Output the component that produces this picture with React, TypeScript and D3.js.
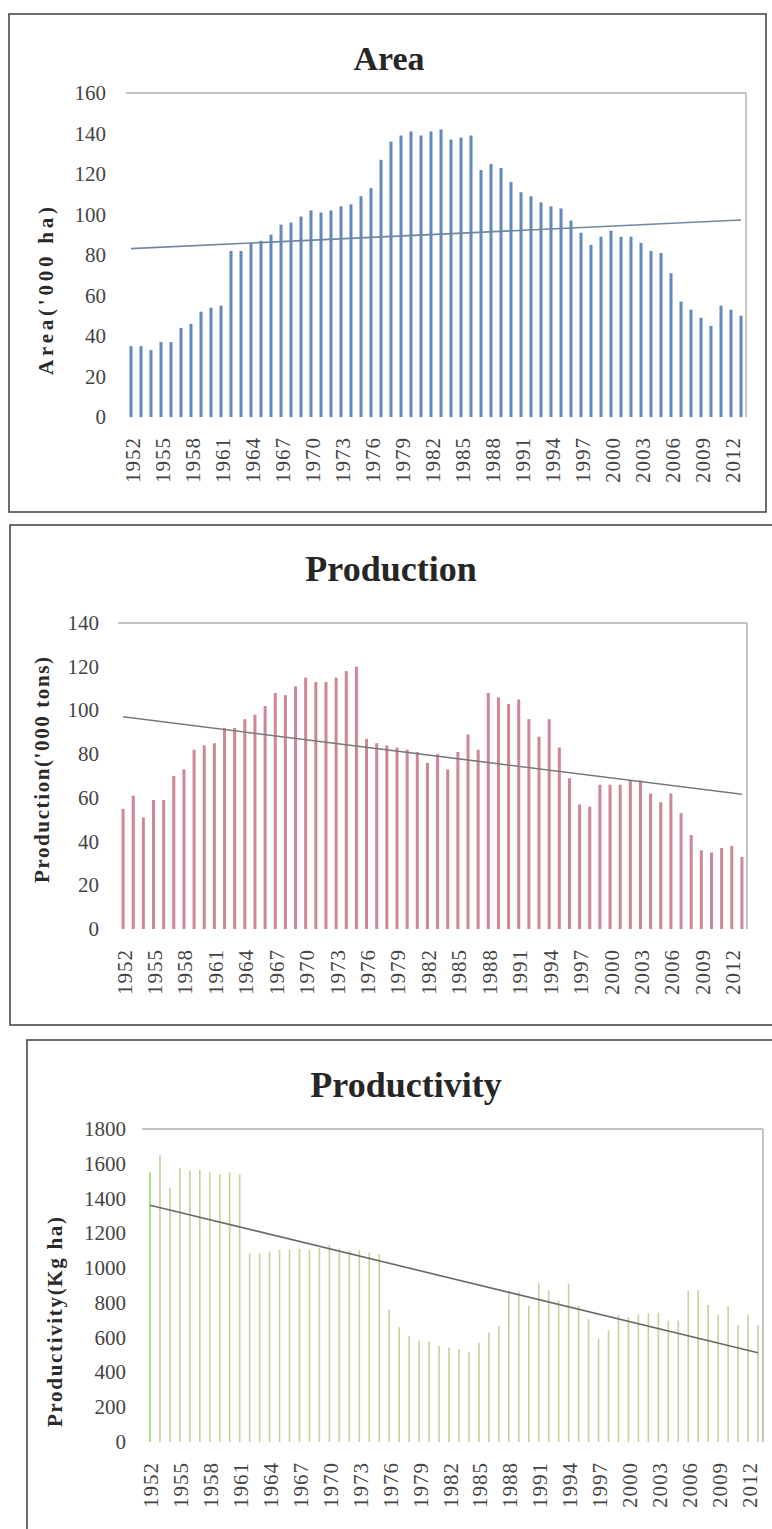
import React from 'react';
import * as d3 from 'd3';

// Categories: crop years
const years = [
  1952, 1953, 1954, 1955, 1956, 1957, 1958, 1959, 1960, 1961,
  1962, 1963, 1964, 1965, 1966, 1967, 1968, 1969, 1970, 1971,
  1972, 1973, 1974, 1975, 1976, 1977, 1978, 1979, 1980, 1981,
  1982, 1983, 1984, 1985, 1986, 1987, 1988, 1989, 1990, 1991,
  1992, 1993, 1994, 1995, 1996, 1997, 1998, 1999, 2000, 2001,
  2002, 2003, 2004, 2005, 2006, 2007, 2008, 2009, 2010, 2011,
  2012, 2013,
];

// Area ('000 ha)
const areaValues = [
  35, 35, 33, 37, 37, 44, 46, 52, 54, 55,
  82, 82, 86, 87, 90, 95, 96, 99, 102, 101,
  102, 104, 105, 109, 113, 127, 136, 139, 141, 139,
  141, 142, 137, 138, 139, 122, 125, 123, 116, 111,
  109, 106, 104, 103, 97, 91, 85, 89, 92, 89,
  89, 86, 82, 81, 71, 57, 53, 49, 45, 55,
  53, 50,
];

// Production ('000 tons)
const productionValues = [
  55, 61, 51, 59, 59, 70, 73, 82, 84, 85,
  92, 92, 96, 98, 102, 108, 107, 111, 115, 113,
  113, 115, 118, 120, 87, 85, 84, 83, 82, 81,
  76, 80, 73, 81, 89, 82, 108, 106, 103, 105,
  96, 88, 96, 83, 69, 57, 56, 66, 66, 66,
  68, 68, 62, 58, 62, 53, 43, 36, 35, 37,
  38, 33,
];

// Productivity (kg/ha)
const productivityValues = [
  1550, 1650, 1460, 1575, 1560, 1565, 1550, 1540, 1550, 1540,
  1085, 1085, 1095, 1105, 1105, 1110, 1105, 1115, 1135, 1115,
  1100, 1105, 1090, 1080, 763, 660, 610, 583, 577, 552,
  544, 535, 519, 570, 629, 667, 871, 865, 783, 913,
  871, 813, 909, 783, 706, 596, 644, 731, 717, 735,
  740, 744, 698, 698, 871, 875, 788, 731, 783, 673,
  731, 673,
];

const areaTicks = [0, 20, 40, 60, 80, 100, 120, 140, 160];
const productionTicks = [0, 20, 40, 60, 80, 100, 120, 140];
const productivityTicks = [0, 200, 400, 600, 800, 1000, 1200, 1400, 1600, 1800];

const FONT = '"Liberation Serif", "Times New Roman", Times, serif';

// Least-squares linear trend over category index 1..n; returns values at first and last category
function linearTrend(vals: number[]): [number, number] {
  const xs = vals.map((_, i) => i + 1);
  const mx = d3.mean(xs) as number;
  const my = d3.mean(vals) as number;
  let sxy = 0;
  let sxx = 0;
  vals.forEach((v, i) => {
    sxy += (xs[i] - mx) * (v - my);
    sxx += (xs[i] - mx) * (xs[i] - mx);
  });
  const b = sxy / sxx;
  const a = my - b * mx;
  return [a + b * 1, a + b * vals.length];
}

type Layout = {
  frame: { l: number; t: number; r: number; b: number };
  plot: { left: number; right: number; top: number; bottom: number; gridStart: number };
  title: { x: number; y: number; size: number };
  yTitle: { x: number; y: number; len: number };
  tickRight: number;
};

type PanelProps = {
  layout: Layout;
  title: string;
  yTitle: string;
  values: number[];
  ticks: number[];
  barColor: string;
  firstBarColor?: string;
  barWidth: number;
  trendColor: string;
};

function Panel({ layout, title, yTitle, values, ticks, barColor, firstBarColor, barWidth, trendColor }: PanelProps) {
  const { frame, plot } = layout;
  const x = d3.scaleBand<number>().domain(years).range([plot.left, plot.right]);
  const y = d3
    .scaleLinear()
    .domain([0, d3.max(ticks) as number])
    .range([plot.bottom, plot.top]);
  const cx = (yr: number) => (x(yr) as number) + x.bandwidth() / 2;
  const [t0, t1] = linearTrend(values);
  const trendPath = d3.line()([
    [cx(years[0]), y(t0)],
    [cx(years[years.length - 1]), y(t1)],
  ]) as string;

  return (
    <g>
      <rect
        x={frame.l}
        y={frame.t}
        width={frame.r - frame.l}
        height={frame.b - frame.t}
        fill="#fff"
        stroke="#4a4a4a"
        strokeWidth={1.6}
      />
      <text
        x={layout.title.x}
        y={layout.title.y}
        textAnchor="middle"
        fontFamily={FONT}
        fontWeight="bold"
        fontSize={layout.title.size}
        fill="#262626"
      >
        {title}
      </text>

      {/* plot area border: top and right edges */}
      <line x1={plot.gridStart} x2={plot.right} y1={plot.top} y2={plot.top} stroke="#8a8a8a" strokeWidth={1.2} />
      <line x1={plot.right} x2={plot.right} y1={plot.top} y2={plot.bottom} stroke="#a0a0a0" strokeWidth={1.2} />

      {ticks.map((t) => (
        <text
          key={t}
          x={layout.tickRight}
          y={y(t)}
          textAnchor="end"
          dominantBaseline="central"
          fontFamily={FONT}
          fontSize={21}
          fill="#444"
        >
          {t}
        </text>
      ))}

      {years.map((yr, i) => (
        <rect
          key={yr}
          x={cx(yr) - barWidth / 2}
          y={y(values[i])}
          width={barWidth}
          height={plot.bottom - y(values[i])}
          fill={i === 0 && firstBarColor ? firstBarColor : barColor}
        />
      ))}

      <path d={trendPath} fill="none" stroke={trendColor} strokeWidth={1.6} />

      {years.map((yr, i) =>
        i % 3 === 0 ? (
          <text
            key={yr}
            transform={`translate(${cx(yr) + 1.5},${plot.bottom + 20}) rotate(-90)`}
            textAnchor="end"
            dominantBaseline="central"
            fontFamily={FONT}
            fontSize={21}
            letterSpacing={1}
            fill="#444"
          >
            {yr}
          </text>
        ) : null
      )}

      <text
        transform={`translate(${layout.yTitle.x},${layout.yTitle.y}) rotate(-90)`}
        textAnchor="middle"
        dominantBaseline="central"
        fontFamily={FONT}
        fontWeight="bold"
        fontSize={21}
        textLength={layout.yTitle.len}
        lengthAdjust="spacing"
        fill="#2a2a2a"
      >
        {yTitle}
      </text>
    </g>
  );
}

const areaLayout: Layout = {
  frame: { l: 9, t: 14, r: 766, b: 512 },
  plot: { left: 126, right: 746, top: 93, bottom: 417, gridStart: 126 },
  title: { x: 389, y: 70, size: 34 },
  yTitle: { x: 46, y: 291, len: 168 },
  tickRight: 106,
};

const productionLayout: Layout = {
  frame: { l: 10, t: 525, r: 790, b: 1025 },
  plot: { left: 118, right: 747, top: 623, bottom: 929, gridStart: 118 },
  title: { x: 391, y: 581, size: 36 },
  yTitle: { x: 42, y: 770, len: 226 },
  tickRight: 99,
};

const productivityLayout: Layout = {
  frame: { l: 27, t: 1040, r: 790, b: 1545 },
  plot: { left: 145, right: 763, top: 1129, bottom: 1442, gridStart: 142 },
  title: { x: 406, y: 1097, size: 36 },
  yTitle: { x: 55, y: 1322, len: 210 },
  tickRight: 126,
};

export default function App() {
  return (
    <svg
      width={772}
      height={1529}
      viewBox="0 0 772 1529"
      style={{ position: 'absolute', left: 0, top: 0, background: '#fff' }}
    >
      <rect x={0} y={0} width={772} height={1529} fill="#fff" />
      <Panel
        layout={areaLayout}
        title="Area"
        yTitle="Area('000 ha)"
        values={areaValues}
        ticks={areaTicks}
        barColor="#6189bd"
        barWidth={3}
        trendColor="#6f86a3"
      />
      <Panel
        layout={productionLayout}
        title="Production"
        yTitle="Production('000 tons)"
        values={productionValues}
        ticks={productionTicks}
        barColor="#cf8794"
        barWidth={3}
        trendColor="#7a7a7a"
      />
      <Panel
        layout={productivityLayout}
        title="Productivity"
        yTitle="Productivity(Kg ha)"
        values={productivityValues}
        ticks={productivityTicks}
        barColor="#c6d19e"
        firstBarColor="#8edc6a"
        barWidth={1.6}
        trendColor="#6a6a6a"
      />
    </svg>
  );
}
